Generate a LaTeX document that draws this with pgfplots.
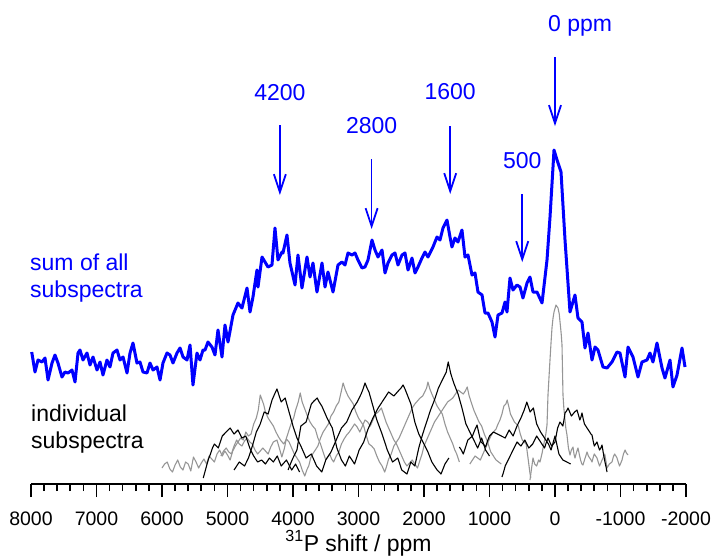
\documentclass[border=0pt]{standalone}
\usepackage{fontspec}
\setmainfont{Liberation Sans}
\usepackage{pgfplots}
\pgfplotsset{compat=1.18}
\usetikzlibrary{arrows.meta}
\definecolor{sumblue}{RGB}{0,0,255}
\definecolor{subgray}{RGB}{150,150,150}
\newcommand{\annfont}{\fontsize{23}{27}\selectfont}

\begin{document}
\begin{tikzpicture}
\begin{axis}[
  scale only axis, width=655pt, height=484pt,
  xmin=-2000, xmax=8000, ymin=0, ymax=484, x dir=reverse,
  enlargelimits=false, clip=false,
  axis x line*=bottom, axis y line=none,
  axis line style={line width=1.8pt, black},
  xtick={8000,7000,6000,5000,4000,3000,2000,1000,0,-1000,-2000},
  xticklabels={8000,7000,6000,5000,4000,3000,2000,1000,0,-1000,-2000},
  minor x tick num=4,
  tick align=outside,
  major tick length=13pt, minor tick length=7pt,
  tick style={line width=1.6pt, black},
  xticklabel style={font=\fontsize{19.5}{20}\selectfont, anchor=base, inner sep=0pt, yshift=-28pt},
  xlabel={\textsuperscript{31}P shift / ppm},
  xlabel style={font=\annfont, at={(axis description cs:0.5,0)}, anchor=base, inner sep=0pt, yshift=-67pt},
]
% individual subspectra
\addplot[subgray, line width=1.1pt, line join=round] coordinates {
(6000,16)(5960,20)(5920,22)(5880,15)(5840,12)(5800,19)(5760,24)(5720,17)(5680,14)(5640,22)(5600,20)(5560,13)(5520,27)(5480,22)(5440,16)(5400,21)(5360,25)(5320,20)(5280,28)
(5240,25)(5200,22)(5160,30)(5120,34)(5080,28)(5040,33)(5000,29)(4960,24)(4920,33)(4880,38)(4840,42)(4800,46)(4760,44)(4720,52)(4680,48)(4640,50)(4600,60)(4560,66)(4530,74)(4500,89)
(4450,80)(4420,72)(4380,66)(4340,62)(4300,58)(4260,52)(4220,47)(4180,43)(4140,40)(4100,45)(4060,42)(4020,36)(3980,30)(3940,26)(3900,22)(3860,14)(3820,8)(3790,14)(3760,18)
(3730,26)(3700,30)(3660,34)(3620,38)(3580,46)(3540,52)(3500,56)(3460,60)(3420,68)(3380,72)(3340,78)(3300,82)(3265,92)(3235,101)(3200,94)(3160,88)(3120,84)(3080,80)(3040,72)(3000,66)
(2960,62)(2920,58)(2880,48)(2840,40)(2800,38)(2760,35)(2720,28)(2680,22)(2640,18)(2600,12)(2570,18)(2540,25)(2500,30)(2460,38)(2420,42)(2380,46)(2340,52)(2300,58)(2260,64)(2220,70)
(2180,76)(2140,80)(2100,83)(2060,86)(2020,88)(1990,92)(1960,96)(1940,102)(1910,95)(1880,90)(1840,84)(1800,78)(1760,74)(1720,70)(1680,60)(1640,52)(1600,46)(1560,40)(1530,34)(1500,30)(1460,22)
};
\addplot[subgray, line width=1.1pt, line join=round] coordinates {
(5100,28)(5060,33)(5020,36)(4980,32)(4940,30)(4900,38)(4860,44)(4820,40)(4780,38)(4740,43)(4700,46)(4660,42)(4620,40)(4580,34)(4540,30)(4500,33)(4460,36)(4420,33)(4380,30)
(4340,37)(4300,42)(4245,44)(4200,34)(4170,27)(4130,36)(4100,46)(4060,54)(4030,60)(3990,66)(3960,74)(3920,82)(3890,91)(3860,82)(3820,75)(3780,68)(3740,62)(3700,58)(3660,55)
(3620,46)(3580,40)(3540,32)(3500,24)(3470,27)(3440,30)(3410,25)(3380,22)(3340,28)(3300,32)(3260,40)(3220,45)(3180,49)(3140,52)(3100,56)(3060,60)(3020,57)(2980,52)(2940,58)(2900,64)
(2860,62)(2820,58)(2780,64)(2740,70)(2700,72)(2650,76)(2610,68)(2580,62)(2540,56)(2500,50)(2460,44)(2420,40)(2380,34)(2340,28)(2300,22)(2260,18)(2220,21)(2180,24)(2140,20)(2100,16)
(2060,24)(2030,30)(2000,38)(1960,44)(1920,50)(1880,56)(1840,62)(1800,66)(1760,70)(1720,74)(1680,78)(1640,82)(1600,84)(1560,86)(1520,90)(1480,94)(1440,92)(1400,90)(1370,93)(1340,97)
(1310,88)(1280,82)(1240,74)(1200,68)(1160,62)(1120,58)(1080,50)(1040,44)(1010,38)(980,32)(940,28)(900,24)(860,22)(820,20)
};
\addplot[subgray, line width=1.1pt, line join=round] coordinates {
(1300,20)(1260,24)(1220,28)(1180,26)(1140,24)(1100,30)(1060,36)(1020,42)(980,48)(940,52)(900,55)(870,60)(840,64)(810,70)(780,78)(750,80)(730,84)(700,76)(680,70)(650,66)
(620,62)(590,60)(560,58)(530,50)(500,44)(470,42)(440,40)(420,30)(400,20)(385,12)(370,6)
};
\addplot[subgray, line width=1.1pt, line join=round] coordinates {
(382,4)(336,26)(310,20)(280,18)(250,24)(229,22)(200,30)(170,40)(140,50)(122,59)(107,89)(80,120)(60,142)(46,156)(30,166)(15,172)(-15,179)
(-46,176)(-65,170)(-80,160)(-95,150)(-107,139)(-122,89)(-135,76)(-150,66)(-165,56)(-183,49)(-205,36)(-229,29)(-250,34)(-275,37)(-290,30)(-305,26)(-330,32)(-351,36)
(-370,30)(-390,24)(-410,20)(-427,19)(-460,26)(-489,32)(-510,28)(-530,26)(-550,24)(-565,22)(-585,27)(-600,30)(-620,28)(-641,26)(-660,22)(-680,18)(-700,21)(-718,24)(-740,27)(-760,30)
(-780,22)(-794,16)(-812,18)(-830,20)(-850,21)(-870,22)(-890,27)(-910,30)(-930,28)(-947,26)(-965,22)(-985,18)(-1005,21)(-1023,24)(-1045,30)(-1070,34)(-1090,31)(-1115,29)
};
\addplot[black, line width=1.1pt, line join=round] coordinates {
(5370,6)(5345,12)(5320,18)(5290,25)(5260,30)(5230,36)(5200,40)(5170,38)(5140,36)(5110,42)(5080,48)(5050,50)(5020,52)(4990,54)(4960,56)(4930,53)(4900,50)(4870,52)(4840,54)
(4810,50)(4780,46)(4750,47)(4720,48)(4690,42)(4660,36)(4630,32)(4600,28)(4570,25)(4540,22)(4510,23)(4480,24)(4450,22)(4420,20)(4390,23)(4360,26)(4330,24)(4300,22)(4270,25)(4240,28)
(4210,23)(4180,18)(4140,21)(4100,24)(4060,19)(4020,14)(3990,17)(3960,20)(3930,16)(3900,12)
};
\addplot[black, line width=1.1pt, line join=round] coordinates {
(4900,14)(4860,18)(4820,22)(4780,20)(4740,18)(4710,22)(4680,26)(4650,32)(4620,38)(4590,45)(4560,52)(4530,56)(4500,60)(4470,66)(4440,72)(4410,71)(4380,70)(4350,77)(4320,84)
(4280,90)(4245,95)(4210,88)(4180,82)(4150,84)(4120,86)(4090,79)(4060,72)(4030,65)(4000,58)(3970,52)(3940,46)(3910,42)(3880,38)(3840,32)(3800,26)(3760,28)(3720,30)(3680,24)(3640,18)
(3600,15)(3560,12)(3530,18)(3500,24)(3460,28)(3420,32)(3380,38)(3340,44)(3300,50)(3260,56)(3220,59)(3180,62)(3140,68)(3100,74)(3060,78)(3020,82)(2990,86)(2960,90)(2930,95)(2900,101)
(2870,96)(2840,92)(2810,85)(2780,78)(2750,71)(2720,64)(2680,57)(2640,50)(2600,42)(2560,34)(2520,28)(2480,22)(2440,24)(2400,26)(2370,20)(2340,14)(2300,12)(2260,10)(2230,16)(2200,22)
(2170,20)(2140,18)(2110,27)(2080,36)(2050,43)(2020,50)(1990,56)(1960,62)(1930,68)(1900,74)(1870,79)(1840,84)(1810,90)(1780,96)(1750,100)(1720,104)(1690,108)(1660,112)(1645,117)(1630,122)
(1610,116)(1590,110)(1565,105)(1540,100)(1510,95)(1480,90)(1450,83)(1420,76)(1390,68)(1360,60)(1330,56)(1300,52)(1270,48)(1240,44)(1210,40)(1180,36)(1150,41)(1120,46)(1090,40)(1060,34)(1030,31)(1000,28)
};
\addplot[black, line width=1.1pt, line join=round] coordinates {
(4075,14)(4040,20)(4000,26)(3970,30)(3940,34)(3910,46)(3880,58)(3840,60)(3800,62)(3760,71)(3720,80)(3680,83)(3630,86)(3600,82)(3560,78)(3520,72)(3480,66)(3440,61)(3400,56)
(3365,46)(3330,36)(3295,30)(3260,24)(3230,21)(3200,18)(3170,23)(3140,28)(3100,24)(3060,20)(3025,27)(2990,34)(2955,38)(2920,42)(2890,48)(2860,54)(2820,60)(2780,66)(2740,71)(2700,76)
(2660,80)(2620,84)(2580,88)(2540,92)(2500,90)(2460,88)(2420,91)(2380,94)(2350,96)(2320,99)(2290,95)(2260,90)(2230,85)(2200,80)(2170,71)(2140,62)(2110,56)(2080,50)(2040,45)(2000,40)
(1970,36)(1940,32)(1910,27)(1880,22)(1840,18)(1800,14)(1770,12)(1740,10)(1710,15)(1680,20)(1650,23)(1620,26)
};
\addplot[black, line width=1.1pt, line join=round] coordinates {
(1460,37)(1430,34)(1400,30)(1365,37)(1330,44)(1295,46)(1260,48)(1225,54)(1190,59)(1160,50)(1130,42)(1095,40)(1060,37)(1030,43)(1000,48)(970,50)(940,52)(910,51)(880,50)
(850,49)(820,48)(790,47)(760,46)(730,50)(700,54)(670,51)(640,48)(610,53)(580,58)(550,62)(520,66)(495,70)(470,74)(450,78)(430,82)(405,77)(380,72)(355,74)(330,76)
(305,68)(280,60)(250,56)(220,52)(190,49)(160,46)(130,43)(100,40)(80,37)(60,34)(30,41)(0,48)(-30,39)(-60,30)(-90,27)(-120,24)(-150,23)(-180,22)(-210,21)(-240,20)
};
\addplot[black, line width=1.1pt, line join=round] coordinates {
(810,7)(785,12)(760,18)(730,22)(700,26)(670,30)(640,34)(610,38)(580,42)(550,40)(520,38)(490,41)(460,44)(430,40)(400,36)(370,38)(340,40)(310,44)(280,48)
(250,45)(220,42)(190,39)(160,36)(135,41)(107,46)(80,42)(50,38)(25,40)(0,42)(-20,49)(-40,56)(-58,59)(-76,62)(-98,60)(-120,58)(-137,64)(-153,71)(-176,73)(-199,76)
(-225,72)(-250,68)(-275,70)(-300,72)(-318,73)(-336,74)(-358,69)(-380,64)(-396,67)(-412,71)(-431,65)(-450,60)(-470,58)(-489,56)(-510,54)(-530,52)(-548,50)(-565,49)(-583,43)(-600,38)
(-620,40)(-641,42)(-660,38)(-680,34)(-700,36)(-718,39)(-740,30)(-763,22)(-780,17)(-794,12)
};
% sum of all subspectra
\addplot[sumblue, line width=3pt, line join=round] coordinates {
(7989,132)(7939,112)(7893,124)(7832,122)(7786,126)(7740,104)(7679,121)(7634,129)(7588,121)(7527,107)
(7481,112)(7435,111)(7374,114)(7328,102)(7282,131)(7252,134)(7206,124)(7145,131)(7099,119)(7053,127)
(6992,114)(6946,122)(6901,109)(6840,124)(6794,117)(6748,131)(6687,134)(6641,124)(6595,127)(6534,111)
(6488,131)(6443,141)(6382,121)(6336,122)(6290,112)(6229,111)(6183,121)(6137,114)(6076,117)(6030,104)
(5985,121)(5924,131)(5878,129)(5832,121)(5771,131)(5725,136)(5679,127)(5618,124)(5572,139)(5527,99)
(5466,131)(5420,124)(5374,134)(5343,134)(5298,142)(5237,137)(5191,129)(5145,154)(5084,127)(5038,159)
(4992,142)(4916,169)(4840,181)(4779,176)(4702,196)(4656,172)(4611,187)(4550,214)(4534,197)(4473,227)
(4427,222)(4382,217)(4321,219)(4275,256)(4229,224)(4168,232)(4153,231)(4092,249)(4046,221)(3969,199)
(3924,229)(3863,196)(3786,227)(3740,207)(3695,221)(3634,192)(3557,221)(3511,197)(3466,212)(3435,204)
(3389,192)(3313,219)(3252,222)(3206,219)(3160,231)(3099,229)(3053,231)(3008,224)(2947,216)(2901,217)
(2855,224)(2794,244)(2748,234)(2702,227)(2641,234)(2595,211)(2550,221)(2489,229)(2443,231)(2397,219)
(2336,229)(2290,231)(2244,214)(2183,226)(2137,211)(2092,217)(2031,226)(1985,232)(1939,227)(1863,237)
(1802,247)(1756,244)(1710,256)(1649,264)(1603,247)(1573,237)(1527,246)(1481,242)(1420,254)(1374,227)
(1328,229)(1267,209)(1221,211)(1176,192)(1114,189)(1069,171)(1023,171)(962,162)(916,147)(870,169)
(809,171)(763,182)(733,172)(687,206)(641,194)(580,199)(534,197)(489,186)(427,201)(382,207)
(336,192)(275,192)(198,181)(122,224)(76,267)(15,334)(-31,324)(-92,312)(-153,244)(-229,172)
(-305,189)(-351,166)(-412,162)(-458,136)(-504,151)(-565,124)(-611,137)(-656,134)(-733,117)(-794,116)
(-870,122)(-947,132)(-992,131)(-1069,107)(-1115,137)(-1191,127)(-1267,107)(-1328,122)(-1405,124)(-1450,131)
(-1496,122)(-1557,141)(-1634,116)(-1679,106)(-1756,124)(-1801,97)(-1863,109)(-1939,136)(-1985,117)
};
% annotations
\draw[sumblue, line width=1.8pt, -{Straight Barb[length=18pt,width=12pt]}] (axis cs:4200,359) -- (axis cs:4200,289);
\draw[sumblue, line width=1.8pt, -{Straight Barb[length=18pt,width=12pt]}] (axis cs:2800,325) -- (axis cs:2800,255);
\draw[sumblue, line width=1.8pt, -{Straight Barb[length=18pt,width=12pt]}] (axis cs:1600,358) -- (axis cs:1600,290);
\draw[sumblue, line width=1.8pt, -{Straight Barb[length=18pt,width=12pt]}] (axis cs:500,290) -- (axis cs:500,222);
\draw[sumblue, line width=1.8pt, -{Straight Barb[length=18pt,width=12pt]}] (axis cs:0,427) -- (axis cs:0,358);
\node[sumblue, font=\annfont, anchor=base, inner sep=0pt] at (axis cs:4200,384) {4200};
\node[sumblue, font=\annfont, anchor=base, inner sep=0pt] at (axis cs:2800,351) {2800};
\node[sumblue, font=\annfont, anchor=base, inner sep=0pt] at (axis cs:1600,385) {1600};
\node[sumblue, font=\annfont, anchor=base, inner sep=0pt] at (axis cs:500,316) {500};
\node[sumblue, font=\annfont, anchor=base west, inner sep=0pt] at (axis cs:107,453) {0 ppm};
\node[sumblue, font=\annfont, anchor=base west, inner sep=0pt] at (axis cs:8015,214) {sum of all};
\node[sumblue, font=\annfont, anchor=base west, inner sep=0pt] at (axis cs:8015,187) {subspectra};
\node[black, font=\annfont, anchor=base west, inner sep=0pt] at (axis cs:8000,63) {individual};
\node[black, font=\annfont, anchor=base west, inner sep=0pt] at (axis cs:8000,36) {subspectra};
\coordinate (O) at (axis cs:8000,0);
\end{axis}
\pgfresetboundingbox
\path ([shift={(-31pt,-74pt)}]O) rectangle ([shift={(683pt,484pt)}]O);
\end{tikzpicture}
\end{document}
